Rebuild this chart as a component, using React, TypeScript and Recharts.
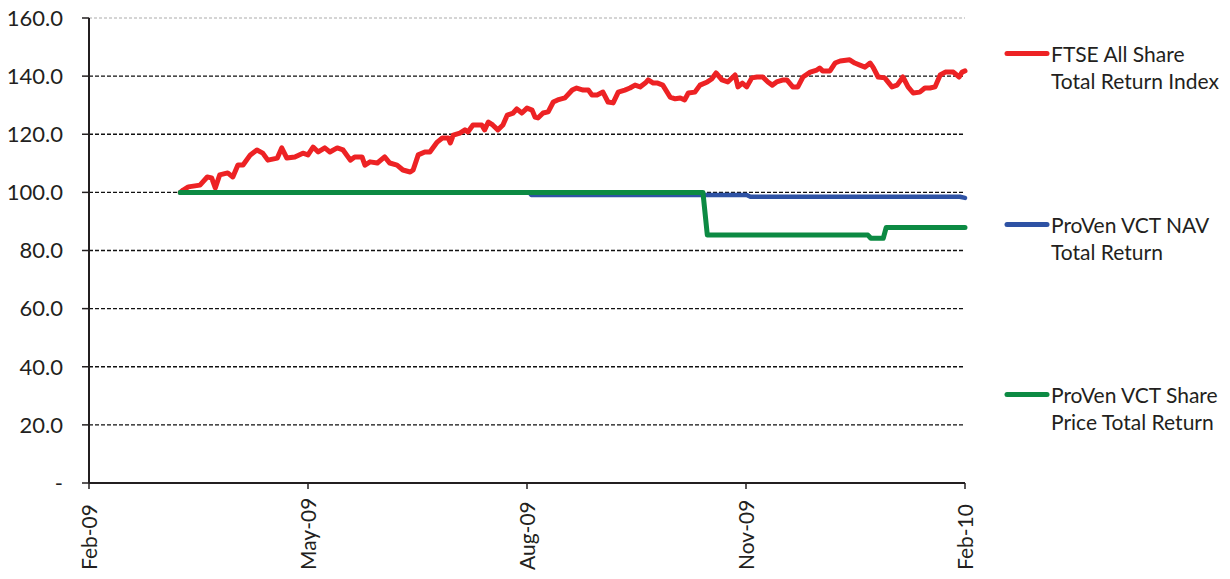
import React from "react";
import { LineChart, Line, XAxis, YAxis, ReferenceLine } from "recharts";

// months since 1 Feb 2009
const ftseMonths = [1.25,1.29,1.36,1.52,1.62,1.68,1.73,1.79,1.90,1.97,2.04,2.11,2.21,2.30,2.38,2.45,2.58,2.64,2.71,2.82,2.93,3.00,3.07,3.14,3.23,3.30,3.40,3.48,3.58,3.64,3.74,3.78,3.85,3.95,4.05,4.12,4.22,4.30,4.40,4.44,4.51,4.60,4.67,4.77,4.84,4.92,4.95,4.99,5.08,5.15,5.19,5.26,5.38,5.42,5.47,5.53,5.60,5.67,5.73,5.81,5.86,5.93,6.00,6.07,6.11,6.15,6.22,6.29,6.36,6.42,6.52,6.62,6.68,6.77,6.84,6.89,6.96,7.04,7.11,7.18,7.25,7.34,7.41,7.48,7.55,7.62,7.66,7.73,7.79,7.86,7.96,8.03,8.10,8.16,8.21,8.30,8.37,8.47,8.53,8.59,8.67,8.75,8.85,8.89,8.95,9.01,9.08,9.15,9.23,9.30,9.36,9.42,9.51,9.56,9.64,9.71,9.78,9.88,9.97,10.01,10.05,10.15,10.22,10.29,10.42,10.49,10.56,10.63,10.70,10.74,10.81,10.90,11.00,11.07,11.15,11.22,11.29,11.38,11.45,11.52,11.59,11.66,11.73,11.84,11.92,11.96,12.00];
const ftseValues = [100.0,100.8,101.9,102.5,105.3,105.0,101.5,106.0,106.7,105.3,109.4,109.4,112.9,114.6,113.5,111.1,111.8,115.3,111.8,112.2,113.5,112.9,115.6,113.9,115.3,113.9,115.3,114.6,111.1,112.2,112.2,109.4,110.5,110.1,112.2,110.1,109.4,107.7,107.0,107.7,112.9,113.9,113.9,117.3,118.7,118.7,117.0,119.7,120.4,121.5,120.8,123.2,123.2,121.5,124.2,123.2,121.5,123.2,126.6,127.3,128.7,127.3,129.0,128.3,125.9,125.6,127.3,127.7,131.1,131.8,132.5,135.2,135.9,135.2,135.2,133.5,133.5,134.5,131.1,130.8,134.5,135.2,135.9,136.9,136.3,137.6,138.7,137.6,137.6,136.9,132.8,132.2,132.5,131.8,134.2,134.5,136.9,138.0,139.0,141.1,138.7,138.0,140.4,136.3,137.6,136.3,139.4,139.7,139.7,138.0,136.9,138.0,138.7,138.7,136.3,136.3,139.7,141.4,142.1,142.8,141.8,141.8,144.5,145.2,145.6,144.5,143.8,143.1,144.5,143.1,139.7,139.4,136.3,136.9,139.7,136.3,134.2,134.5,135.9,135.9,136.3,140.4,141.4,141.4,139.7,141.4,141.8];

const navMonths = [1.25, 6.03, 6.06, 9.01, 9.06, 11.93, 12.0];
const navValues = [100.0, 100.0, 99.1, 99.1, 98.5, 98.5, 98.1];

const shareMonths = [1.25, 8.41, 8.47, 10.67, 10.71, 10.88, 10.92, 12.0];
const shareValues = [100.0, 100.0, 85.3, 85.3, 84.2, 84.2, 87.9, 87.9];

const xTicks = [0, 3, 6, 9, 12];
const xTickLabels = ["Feb-09", "May-09", "Aug-09", "Nov-09", "Feb-10"];
const yTicks = [0, 20, 40, 60, 80, 100, 120, 140, 160];
const gridValues = [20, 40, 60, 80, 100, 120, 140];

const seriesNames = ["FTSE All Share\nTotal Return Index", "ProVen VCT NAV\nTotal Return", "ProVen VCT Share\nPrice Total Return"];
const seriesColors = ["#ED2224", "#2E52A4", "#0C8A43"];

const toRows = (xs: number[], vs: number[]) => xs.map((x, i) => ({ x, v: vs[i] }));
const ftseData = toRows(ftseMonths, ftseValues);
const navData = toRows(navMonths, navValues);
const shareData = toRows(shareMonths, shareValues);

const FONT = "Lato, 'Open Sans', sans-serif";

const XTick = (props: any) => {
  const { x, payload } = props;
  const idx = xTicks.indexOf(payload.value);
  const by = 570;
  return (
    <text x={x} y={by} transform={`rotate(-90 ${x} ${by})`} textAnchor="start" dy="0.36em" fontSize={21} fontFamily={FONT} fill="#231F20">
      {xTickLabels[idx]}
    </text>
  );
};

const LegendBox = () => {
  const offsets = [0, 171, 341];
  return (
    <div style={{ position: "absolute", left: 1002, top: 40, width: 228, height: 420, fontFamily: FONT, fontSize: 21, color: "#231F20" }}>
      {seriesNames.map((n, i) => (
        <div key={i} style={{ position: "absolute", top: offsets[i], left: 0, display: "flex" }}>
          <svg width={49} height={27} style={{ flex: "none" }}>
            <line x1={5} y1={13.5} x2={45} y2={13.5} stroke={seriesColors[i]} strokeWidth={5} strokeLinecap="round" />
          </svg>
          <div style={{ lineHeight: "27px", whiteSpace: "pre" }}>{n}</div>
        </div>
      ))}
    </div>
  );
};

export default function App() {
  return (
    <div style={{ position: "absolute", left: 0, top: 0, width: 1230, height: 579, background: "#fff" }}>
      <LineChart width={1230} height={579} data={ftseData} margin={{ top: 18, right: 265, bottom: 0, left: 0 }}>
        <XAxis
          dataKey="x"
          type="number"
          domain={[0, 12]}
          ticks={xTicks}
          interval={0}
          height={96}
          tick={<XTick />}
          tickSize={6}
          axisLine={{ stroke: "#231F20", strokeWidth: 2 }}
          tickLine={{ stroke: "#231F20", strokeWidth: 1.5 }}
        />
        <YAxis
          type="number"
          domain={[0, 160]}
          ticks={yTicks}
          interval={0}
          width={89}
          tickSize={7}
          tickMargin={19}
          tickFormatter={(v: number) => (v === 0 ? "-" : v.toFixed(1))}
          tick={{ fontSize: 22, fontFamily: FONT, fill: "#231F20" }}
          axisLine={{ stroke: "#231F20", strokeWidth: 2 }}
          tickLine={{ stroke: "#231F20", strokeWidth: 1.5 }}
        />
        <ReferenceLine y={160} stroke="#C8C8C8" strokeDasharray="3 2" strokeWidth={1.5} />
        {gridValues.map((g) => (
          <ReferenceLine key={g} y={g} stroke="#111" strokeDasharray="4 2" strokeWidth={1.4} />
        ))}
        <Line data={ftseData} dataKey="v" name="FTSE" stroke={seriesColors[0]} strokeWidth={5} dot={false} isAnimationActive={false} strokeLinejoin="round" strokeLinecap="round" />
        <Line data={navData} dataKey="v" name="NAV" stroke={seriesColors[1]} strokeWidth={4.5} dot={false} isAnimationActive={false} strokeLinejoin="round" strokeLinecap="round" />
        <Line data={shareData} dataKey="v" name="Share" stroke={seriesColors[2]} strokeWidth={5} dot={false} isAnimationActive={false} strokeLinejoin="round" strokeLinecap="round" />
      </LineChart>
      <LegendBox />
    </div>
  );
}
